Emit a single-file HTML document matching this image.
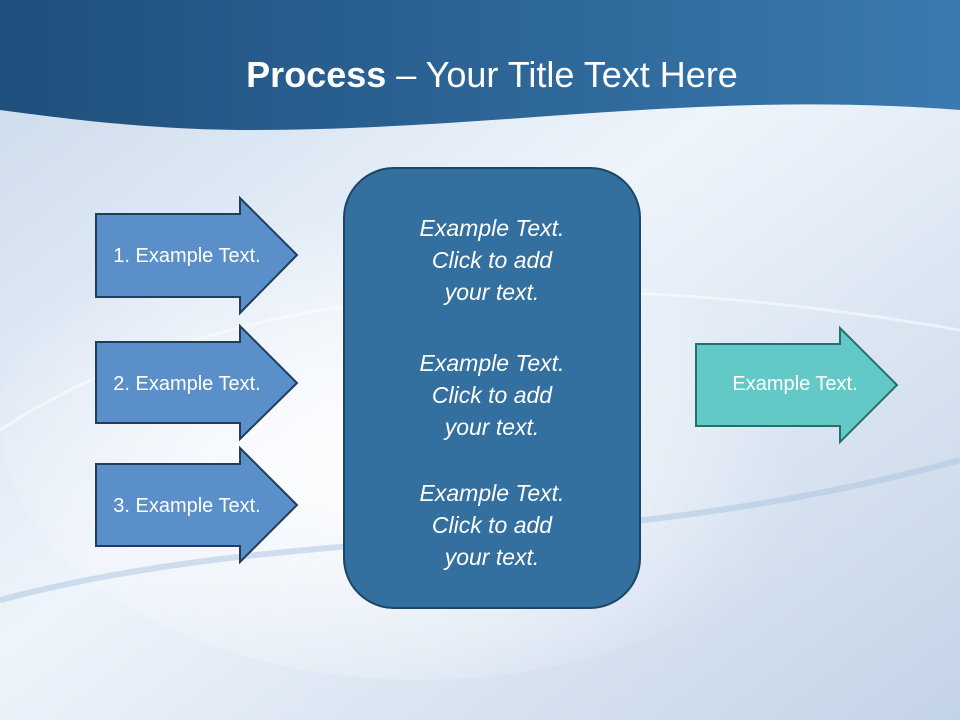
<!DOCTYPE html>
<html><head><style>
body{margin:0;width:960px;height:720px;overflow:hidden;font-family:"Liberation Sans",sans-serif}
</style></head><body>
<svg width="960" height="720" xmlns="http://www.w3.org/2000/svg">
<defs>
<linearGradient id="bg" x1="0" y1="0" x2="1" y2="1">
<stop offset="0" stop-color="#c9d8ea"/><stop offset="0.45" stop-color="#eef4fb"/><stop offset="1" stop-color="#c3d3e7"/>
</linearGradient>
<linearGradient id="hd" x1="0" y1="0" x2="1" y2="0">
<stop offset="0" stop-color="#1f4f7c"/><stop offset="1" stop-color="#3a7ab0"/>
</linearGradient>
<radialGradient id="glow" cx="0.45" cy="0.6" r="0.5">
<stop offset="0" stop-color="#ffffff" stop-opacity="0.9"/><stop offset="1" stop-color="#ffffff" stop-opacity="0"/>
</radialGradient>
</defs>
<rect width="960" height="720" fill="url(#bg)"/>
<ellipse cx="420" cy="420" rx="420" ry="260" fill="url(#glow)"/>
<path d="M0 430 C200 300 500 250 960 330" stroke="#ffffff" stroke-opacity="0.5" stroke-width="3" fill="none"/>
<path d="M0 600 C300 520 600 560 960 460" stroke="#aac4e0" stroke-opacity="0.5" stroke-width="6" fill="none"/>
<path d="M0 0 H960 V110 C700 90 500 130 250 130 C150 130 60 118 0 110 Z" fill="url(#hd)"/>
<text x="492" y="87" text-anchor="middle" font-size="36" fill="#fff"><tspan font-weight="bold">Process</tspan> – Your Title Text Here</text>
<g stroke="#203d5c" stroke-width="2" fill="#5b8fc9">
<path d="M96 214 H240 V198 L297 255 L240 313 V297 H96 Z"/>
<path d="M96 342 H240 V326 L297 383 L240 439 V423 H96 Z"/>
<path d="M96 464 H240 V448 L297 505 L240 562 V546 H96 Z"/>
</g>
<path d="M696 344 H840 V328 L897 385 L840 442 V426 H696 Z" fill="#62c9c6" stroke="#25706e" stroke-width="2"/>
<rect x="344" y="168" width="296" height="440" rx="50" fill="#336f9f" stroke="#1e4566" stroke-width="2"/>
<g font-size="20" fill="#fff" text-anchor="middle">
<text x="187" y="262">1. Example Text.</text>
<text x="187" y="390">2. Example Text.</text>
<text x="187" y="512">3. Example Text.</text>
<text x="795" y="390">Example Text.</text>
</g>
<g font-size="23" font-style="italic" fill="#fff" text-anchor="middle">
<text x="492" y="236">Example Text.</text><text x="492" y="268">Click  to add</text><text x="492" y="300">your text.</text>
<text x="492" y="371">Example Text.</text><text x="492" y="403">Click  to add</text><text x="492" y="435">your text.</text>
<text x="492" y="501">Example Text.</text><text x="492" y="533">Click  to add</text><text x="492" y="565">your text.</text>
</g>
</svg>
</body></html>
